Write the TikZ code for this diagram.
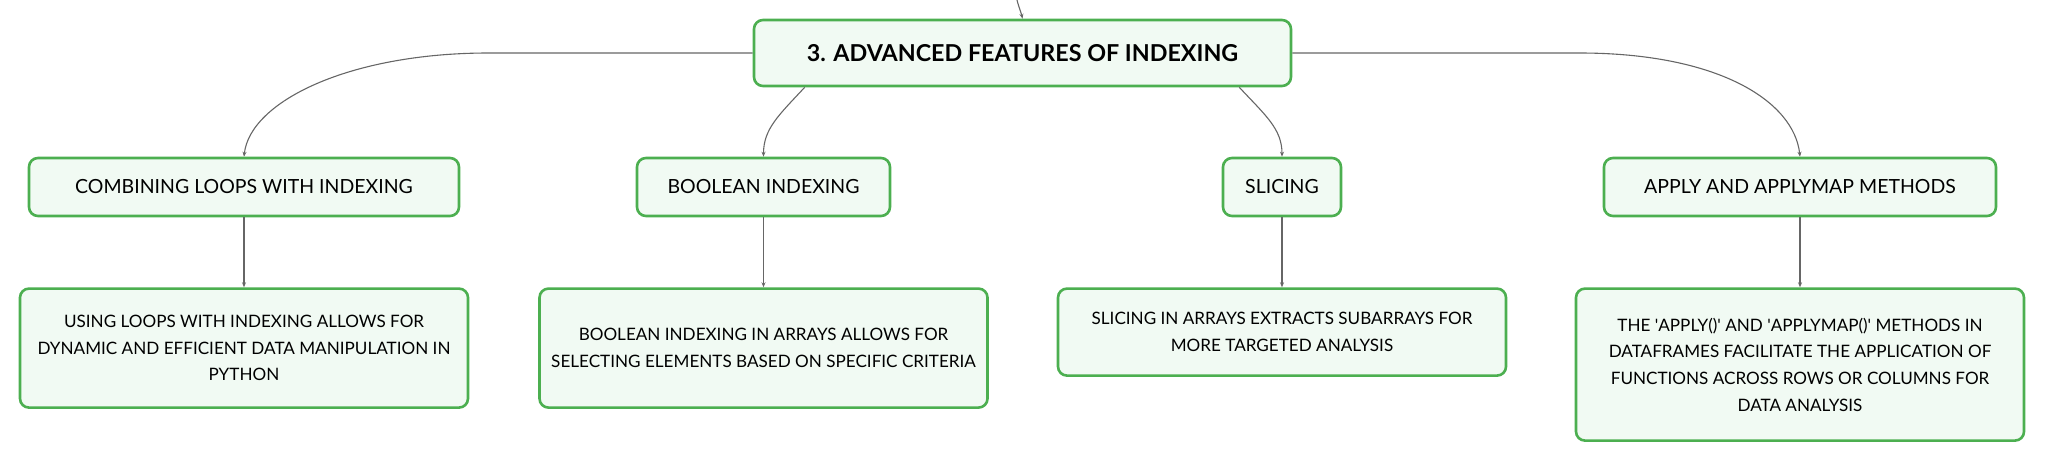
\documentclass[tikz,border=0pt]{standalone}
\usepackage{fontspec}
\setmainfont{Lato}
\usetikzlibrary{positioning,arrows.meta}
\definecolor{boxgreen}{HTML}{4CAF50}
\definecolor{boxfill}{HTML}{F1FAF3}
\definecolor{linegray}{HTML}{666666}
\begin{document}
\begin{tikzpicture}[x=1pt,y=-1pt,>={Stealth[length=5pt,width=4pt]},
    box/.style={draw=boxgreen,line width=2.6pt,fill=boxfill,rounded corners=9pt,align=center,inner sep=0pt},
    topic/.style={box,minimum width=537pt,minimum height=66pt,font=\fontsize{23.3}{28}\selectfont\bfseries},
    branch/.style={box,minimum height=58pt,font=\fontsize{19.5}{24}\selectfont},
    leaf/.style={box,minimum width=448pt,font=\fontsize{17.1}{26.7}\selectfont},
    conn/.style={->,draw=linegray,line width=1.1pt}]
    \useasboundingbox (0,0) rectangle (2046,461);
    \node[topic] (root) at (1022.5,53) {3. ADVANCED FEATURES OF INDEXING};
    \node[branch,minimum width=430pt] (loops) at (244,187) {COMBINING LOOPS WITH INDEXING};
    \node[branch,minimum width=253pt] (bool) at (763.5,187) {BOOLEAN INDEXING};
    \node[branch,minimum width=118pt] (slice) at (1282,187) {SLICING};
    \node[branch,minimum width=392pt] (apply) at (1800,187) {APPLY AND APPLYMAP METHODS};
    \node[leaf,minimum height=119pt,below=70pt of loops] (loopsd) {USING LOOPS WITH INDEXING ALLOWS FOR\\DYNAMIC AND EFFICIENT DATA MANIPULATION IN\\PYTHON};
    \node[leaf,minimum height=119pt,below=70pt of bool] (boold) {BOOLEAN INDEXING IN ARRAYS ALLOWS FOR\\SELECTING ELEMENTS BASED ON SPECIFIC CRITERIA};
    \node[leaf,minimum height=87pt,below=70pt of slice] (sliced) {SLICING IN ARRAYS EXTRACTS SUBARRAYS FOR\\MORE TARGETED ANALYSIS};
    \node[leaf,minimum height=152pt,below=70pt of apply] (applyd) {THE \textquotesingle APPLY()\textquotesingle{} AND \textquotesingle APPLYMAP()\textquotesingle{} METHODS IN\\DATAFRAMES FACILITATE THE APPLICATION OF\\FUNCTIONS ACROSS ROWS OR COLUMNS FOR\\DATA ANALYSIS};
    % incoming line from the parent
    \coordinate (in) at (1017,0);
    \draw[conn] (in) .. controls (1019,8) and (1021,12) .. (root.north);
    % root to branches
    \draw[conn] (root.west) -- +(-264,0) .. controls +(-140,0) and +(6,-55) .. (loops.north);
    \draw[conn] ([xshift=52pt]root.south west) .. controls +(-26,28) and +(0,-28) .. (bool.north);
    \draw[conn] ([xshift=-53pt]root.south east) .. controls +(26,28) and +(0,-28) .. (slice.north);
    \draw[conn] (root.east) -- +(287,0) .. controls +(140,0) and +(-6,-55) .. (apply.north);
    % branches to details
    \draw[conn] (loops) -- (loopsd);
    \draw[conn] (bool) -- (boold);
    \draw[conn] (slice) -- (sliced);
    \draw[conn] (apply) -- (applyd);
\end{tikzpicture}
\end{document}
